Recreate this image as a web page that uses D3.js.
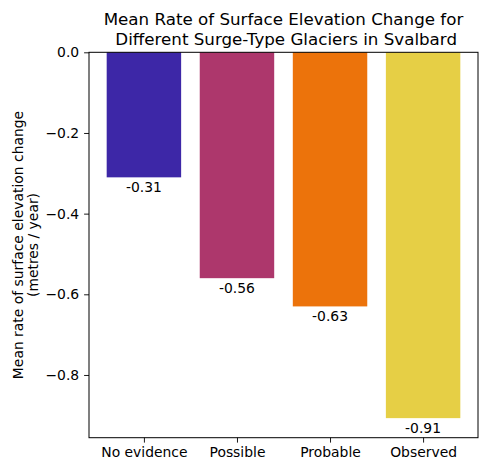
<!DOCTYPE html>
<html><head><meta charset="utf-8">
<script src="https://cdn.jsdelivr.net/npm/d3@7"></script>
<style>body{margin:0;background:#fff}svg{display:block;font-family:"DejaVu Sans",sans-serif}</style>
</head><body><svg id="c" width="486" height="471"></svg>
<script>
const categories = ["No evidence","Possible","Probable","Observed"];
const values = [-0.31,-0.56,-0.63,-0.907];
const labels = ["-0.31","-0.56","-0.63","-0.91"];
const colors = ["#3d27a7","#ad376c","#ec730b","#e6cf45"];
const yTicks = [0.0,-0.2,-0.4,-0.6,-0.8];

const svg = d3.select("#c");
const L=89, R=478, T=52.3, B=437.7;
const x = d3.scaleLinear().domain([-0.59,3.59]).range([L,R]);
const y = d3.scaleLinear().domain([0,-0.9555]).range([T,B]);
const bw = x(0.8)-x(0);

svg.selectAll("rect.bar").data(values).join("rect").attr("class","bar")
  .attr("x",(d,i)=>x(i-0.4)).attr("width",bw)
  .attr("y",y(0)).attr("height",d=>y(d)-y(0))
  .attr("fill",(d,i)=>colors[i]);

svg.selectAll("text.bl").data(values).join("text").attr("class","bl")
  .attr("x",(d,i)=>x(i)).attr("y",d=>y(d)+4.2+10.6)
  .attr("text-anchor","middle").attr("font-size","13.9px").attr("fill","#000")
  .text((d,i)=>labels[i]);

// frame
svg.append("rect").attr("x",L).attr("y",T).attr("width",R-L).attr("height",B-T)
  .attr("fill","none").attr("stroke","#000").attr("stroke-width",1);

const fmt = v => (v<0?"\u2212":"") + Math.abs(v).toFixed(1);
const yax = svg.append("g").attr("transform",`translate(${L},0)`)
  .call(d3.axisLeft(y).tickValues(yTicks).tickFormat(fmt).tickSize(4.9).tickPadding(4.9));
const xax = svg.append("g").attr("transform",`translate(0,${B})`)
  .call(d3.axisBottom(x).tickValues([0,1,2,3]).tickFormat(i=>categories[i]).tickSize(4.9).tickPadding(4.9));
[yax,xax].forEach(g=>{
  g.select(".domain").remove();
  g.selectAll("text").attr("font-size","13.9px").attr("font-family","DejaVu Sans").attr("fill","#000");
  g.selectAll("line").attr("stroke","#000").attr("stroke-width",0.9);
});

// title
const cx=(L+R)/2;
svg.append("text").attr("x",cx).attr("y",24.5).attr("text-anchor","middle")
  .attr("font-size","16.7px").text("Mean Rate of Surface Elevation Change for");
svg.append("text").attr("x",cx).attr("y",44.5).attr("text-anchor","middle")
  .attr("font-size","16.7px").style("white-space","pre").text(" Different Surge-Type Glaciers in Svalbard");

// y label
const cy=(T+B)/2;
svg.append("text").attr("transform",`translate(22.5,${cy}) rotate(-90)`).attr("text-anchor","middle")
  .attr("font-size","13.9px").text("Mean rate of surface elevation change");
svg.append("text").attr("transform",`translate(38,${cy}) rotate(-90)`).attr("text-anchor","middle")
  .attr("font-size","13.9px").text("(metres / year)");
</script></body></html>
